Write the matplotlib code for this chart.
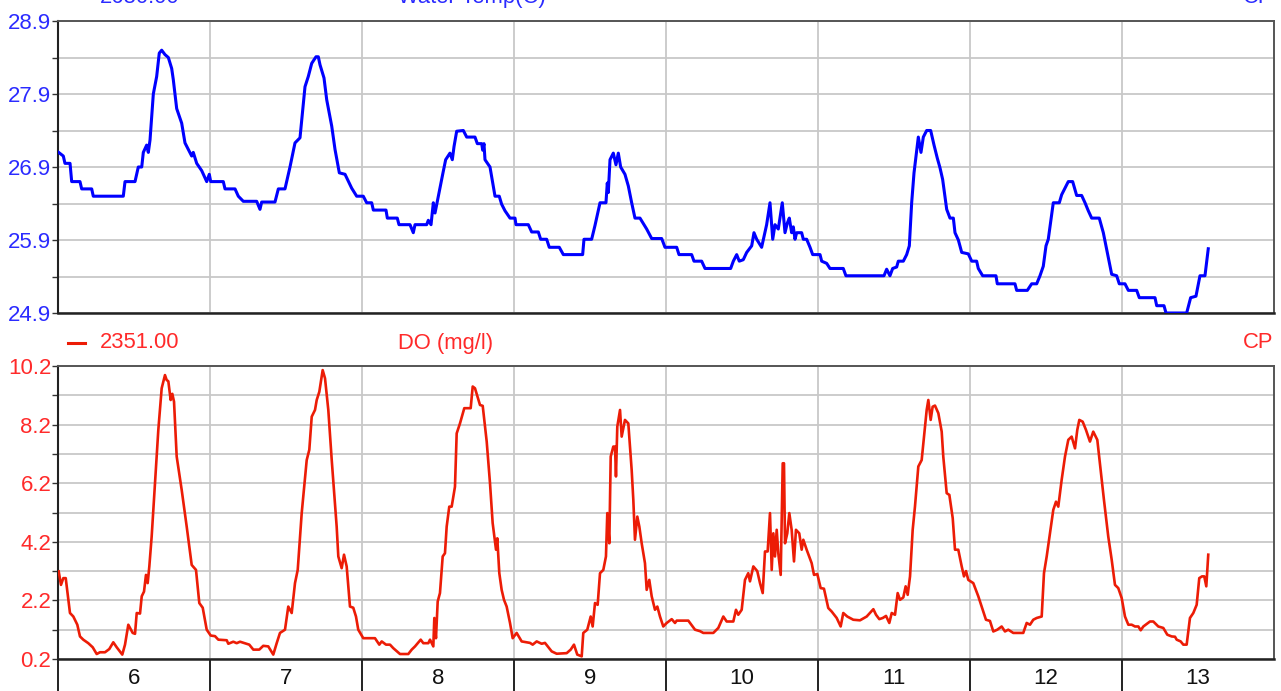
import matplotlib
matplotlib.use('Agg')
import matplotlib.pyplot as plt
from matplotlib.lines import Line2D

plt.rcParams['font.family'] = ['Liberation Sans', 'DejaVu Sans']

# ---------------- data ----------------
day_labels = ['6', '7', '8', '9', '10', '11', '12', '13']
day_starts = [0, 24, 48, 72, 96, 120, 144, 168]     # hours since start of day 6
day_centers = [12, 36, 60, 84, 108, 132, 156, 180]

temp_ticks = [24.9, 25.9, 26.9, 27.9, 28.9]
temp_minor = [25.4, 26.4, 27.4, 28.4]
do_ticks = [0.2, 2.2, 4.2, 6.2, 8.2, 10.2]
do_minor = [1.2, 3.2, 5.2, 7.2, 9.2]

temp_title = 'Water Temp(C)'
temp_last = '2680.00'
do_title = 'DO (mg/l)'
do_last = '2351.00'
site = 'CP'

temp_hours = [0.1, 0.84, 1.1, 1.9, 2.16, 3.47, 3.74, 5.32, 5.57, 10.31, 10.58, 12.16, 12.68, 13.22, 13.47,
              14.0, 14.26, 14.53, 15.05, 15.58, 15.99, 16.37, 16.89, 17.42, 17.95, 18.2, 18.74, 19.53, 20.05,
              21.11, 21.36, 21.9, 22.69, 23.48, 23.89, 24.11, 26.1, 26.37, 27.95, 28.47, 29.26, 31.37, 31.89,
              32.16, 34.26, 34.79, 35.84, 36.63, 37.42, 38.21, 39.0, 39.52, 40.06, 40.74, 41.1, 41.37, 42.0,
              42.43, 43.22, 43.74, 44.42, 45.32, 46.37, 47.16, 48.2, 48.74, 49.53, 49.79, 51.79, 52.0, 53.57,
              53.84, 55.58, 56.1, 56.37, 58.21, 58.47, 58.9, 59.26, 59.53, 60.05, 60.74, 61.21, 61.89, 62.26,
              62.53, 62.95, 64.0, 64.53, 65.84, 66.21, 66.9, 67.06, 67.26, 67.42, 68.21, 69.0, 69.67, 70.05,
              70.58, 71.37, 72.16, 72.31, 74.26, 74.79, 75.84, 76.21, 77.16, 77.57, 79.15, 79.79, 82.84, 83.05,
              84.26, 84.79, 85.58, 86.52, 86.73, 86.89, 87.16, 87.68, 88.1, 88.47, 88.84, 89.52, 90.05, 90.58,
              91.1, 91.89, 92.95, 93.74, 95.32, 95.84, 97.69, 98.05, 100.05, 100.42, 101.63, 102.16, 106.21,
              106.63, 107.16, 107.57, 108.2, 108.74, 109.53, 109.89, 110.32, 111.1, 111.89, 112.42, 112.85,
              113.21, 113.73, 114.36, 114.79, 115.15, 115.47, 115.84, 116.1, 116.37, 116.63, 117.42, 117.68,
              118.21, 118.74, 119.16, 120.32, 120.58, 121.37, 121.89, 123.99, 124.41, 130.42, 130.84, 131.36,
              131.79, 132.42, 132.68, 133.47, 134.0, 134.42, 134.79, 135.16, 135.84, 136.26, 136.63, 137.16,
              137.79, 138.32, 138.84, 139.26, 139.68, 140.32, 140.84, 141.37, 141.63, 142.16, 142.69, 143.73,
              144.27, 145.05, 145.31, 146.0, 148.1, 148.31, 151.1, 151.37, 153.05, 153.74, 154.53, 155.05,
              155.57, 156.0, 156.36, 157.15, 158.1, 158.47, 159.0, 159.52, 160.21, 160.84, 161.63, 162.16,
              162.68, 163.21, 164.41, 165.05, 165.68, 166.37, 167.16, 167.57, 168.47, 169.0, 170.32, 170.73,
              173.21, 173.48, 174.63, 174.95, 178.21, 178.84, 179.68, 180.31, 181.1, 181.62]
temp_values = [27.10, 27.05, 26.95, 26.95, 26.70, 26.70, 26.60, 26.60, 26.50, 26.50, 26.70, 26.70, 26.90, 26.90,
               27.10, 27.20, 27.10, 27.27, 27.90, 28.14, 28.46, 28.50, 28.44, 28.40, 28.25, 28.10, 27.70, 27.50,
               27.23, 27.05, 27.10, 26.95, 26.85, 26.70, 26.80, 26.70, 26.70, 26.60, 26.60, 26.50, 26.43, 26.43,
               26.32, 26.42, 26.42, 26.60, 26.60, 26.90, 27.23, 27.30, 28.00, 28.14, 28.32, 28.41, 28.41, 28.30,
               28.12, 27.82, 27.46, 27.14, 26.82, 26.80, 26.61, 26.50, 26.50, 26.41, 26.41, 26.31, 26.31, 26.20,
               26.20, 26.11, 26.11, 26.00, 26.11, 26.11, 26.17, 26.11, 26.41, 26.27, 26.50, 26.80, 27.00, 27.09,
               27.00, 27.18, 27.39, 27.40, 27.31, 27.31, 27.22, 27.22, 27.13, 27.22, 27.00, 26.90, 26.50, 26.50,
               26.39, 26.30, 26.20, 26.20, 26.11, 26.11, 26.01, 26.01, 25.91, 25.91, 25.80, 25.80, 25.70, 25.70,
               25.91, 25.91, 26.10, 26.41, 26.41, 26.68, 26.55, 27.00, 27.09, 26.93, 27.09, 26.90, 26.80, 26.64,
               26.41, 26.20, 26.20, 26.05, 25.92, 25.92, 25.80, 25.80, 25.70, 25.70, 25.61, 25.61, 25.51, 25.51,
               25.61, 25.70, 25.61, 25.63, 25.73, 25.82, 26.00, 25.91, 25.80, 26.11, 26.41, 25.91, 26.11, 26.05,
               26.41, 26.00, 26.13, 26.20, 26.00, 26.08, 25.91, 26.00, 26.00, 25.91, 25.91, 25.80, 25.70, 25.70,
               25.61, 25.58, 25.51, 25.51, 25.41, 25.41, 25.50, 25.41, 25.51, 25.53, 25.61, 25.61, 25.70, 25.82,
               26.41, 26.82, 27.31, 27.10, 27.31, 27.40, 27.40, 27.20, 27.02, 26.89, 26.73, 26.32, 26.20, 26.20,
               26.00, 25.90, 25.73, 25.71, 25.61, 25.61, 25.51, 25.41, 25.41, 25.30, 25.30, 25.21, 25.21, 25.30,
               25.30, 25.41, 25.54, 25.82, 25.91, 26.41, 26.41, 26.52, 26.61, 26.70, 26.70, 26.51, 26.51, 26.41,
               26.30, 26.20, 26.20, 26.00, 25.73, 25.43, 25.41, 25.30, 25.30, 25.21, 25.21, 25.11, 25.11, 25.00,
               25.00, 24.90, 24.90, 25.11, 25.13, 25.41, 25.41, 25.78]

do_hours = [0.11, 0.47, 0.84, 1.22, 1.89, 2.42, 3.05, 3.47, 3.99, 4.78, 5.48, 6.11, 6.63, 7.42, 8.1, 8.73, 9.27,
            10.15, 10.58, 11.1, 11.79, 12.16, 12.43, 12.95, 13.22, 13.58, 13.89, 14.16, 14.42, 14.79, 15.32,
            15.84, 16.37, 16.89, 17.16, 17.42, 17.79, 18.05, 18.32, 18.74, 19.53, 20.32, 21.11, 21.79, 22.31,
            22.85, 23.48, 24.11, 24.79, 25.31, 26.64, 26.89, 27.68, 28.21, 28.74, 30.2, 30.84, 31.78, 32.41,
            33.2, 33.99, 34.53, 35.05, 35.84, 36.36, 36.9, 37.42, 37.85, 38.48, 39.27, 39.68, 40.06, 40.58,
            40.85, 41.26, 41.79, 42.16, 42.68, 43.22, 44.0, 44.26, 44.79, 45.16, 45.58, 46.1, 46.62, 47.05,
            47.41, 48.2, 50.05, 50.73, 51.11, 51.79, 52.42, 52.94, 54.0, 55.31, 55.85, 56.37, 57.27, 57.68,
            58.47, 58.74, 59.26, 59.42, 59.68, 59.95, 60.31, 60.74, 61.1, 61.37, 61.78, 62.16, 62.68, 62.95,
            63.47, 64.15, 65.16, 65.48, 65.84, 66.63, 67.06, 67.69, 68.21, 68.63, 68.84, 69.16, 69.36, 69.68,
            70.05, 70.42, 70.84, 71.37, 71.79, 72.42, 73.21, 74.52, 74.95, 75.58, 76.37, 76.89, 77.95, 78.74,
            80.32, 80.95, 81.47, 81.99, 82.69, 82.94, 83.57, 84.11, 84.42, 84.79, 85.21, 85.58, 86.1, 86.52,
            86.73, 87.05, 87.27, 87.68, 87.95, 88.1, 88.31, 88.74, 89.0, 89.52, 90.05, 90.31, 90.58, 90.84,
            91.1, 91.47, 91.79, 92.16, 92.68, 92.95, 93.36, 93.74, 94.26, 94.63, 95.05, 95.57, 96.11, 96.9,
            97.42, 97.69, 99.52, 100.58, 101.37, 101.89, 103.47, 104.26, 105.05, 105.58, 106.63, 107.05,
            107.41, 107.95, 108.47, 108.99, 109.26, 109.79, 110.41, 110.84, 111.27, 111.63, 112.05, 112.42,
            112.69, 112.95, 113.21, 113.48, 113.73, 114.11, 114.43, 114.63, 114.79, 115.15, 115.47, 115.84,
            116.21, 116.52, 117.04, 117.42, 117.68, 118.21, 119.0, 119.37, 119.89, 120.42, 120.94, 121.62,
            122.16, 122.95, 123.58, 123.99, 124.62, 125.05, 125.57, 126.63, 127.69, 128.74, 129.16, 129.68,
            130.22, 130.74, 131.26, 131.64, 132.16, 132.58, 132.95, 133.47, 133.84, 134.16, 134.53, 134.95,
            135.31, 135.84, 136.37, 136.74, 137.16, 137.42, 137.79, 138.1, 138.47, 139.0, 139.53, 139.78,
            140.32, 140.74, 141.27, 141.63, 142.15, 142.69, 143.05, 143.37, 143.73, 144.52, 145.31, 146.1,
            146.52, 147.15, 147.68, 148.31, 149.0, 149.52, 150.04, 150.83, 152.41, 152.95, 153.47, 153.99,
            154.53, 155.32, 155.68, 156.11, 156.63, 157.15, 157.58, 157.94, 158.47, 159.0, 159.52, 160.05,
            160.58, 160.94, 161.26, 161.79, 162.31, 162.94, 163.46, 164.1, 164.63, 165.15, 165.83, 166.37,
            166.89, 167.41, 167.95, 168.47, 169.0, 169.53, 170.05, 170.58, 170.95, 171.37, 172.42, 172.94,
            173.73, 174.52, 175.15, 175.84, 176.37, 176.63, 177.26, 177.68, 178.21, 178.73, 179.26, 179.79,
            180.2, 180.63, 180.99, 181.31, 181.62]
do_values = [3.19, 2.73, 2.96, 2.96, 1.77, 1.65, 1.37, 0.97, 0.86, 0.74, 0.60, 0.37, 0.43, 0.43, 0.54, 0.77, 0.60,
             0.35, 0.69, 1.37, 1.09, 1.06, 1.77, 1.75, 2.34, 2.50, 3.07, 2.79, 3.36, 4.38, 6.20,
             8.02, 9.44, 9.89, 9.72, 9.68, 9.04, 9.25, 8.98, 7.11, 5.97, 4.72, 3.41, 3.24, 2.11,
             1.95, 1.20, 1.00, 0.98, 0.86, 0.84, 0.72, 0.79, 0.74, 0.79, 0.69, 0.52, 0.52, 0.65,
             0.63, 0.35, 0.74, 1.09, 1.20, 1.99, 1.77, 2.79, 3.24, 5.18, 6.99, 7.34, 8.47, 8.70,
             9.04, 9.32, 10.06, 9.78, 8.70, 6.99, 4.72, 3.70, 3.30, 3.76, 3.36, 1.99, 1.95, 1.65,
             1.20, 0.91, 0.91, 0.69, 0.80, 0.69, 0.69, 0.57, 0.37, 0.37, 0.52, 0.63, 0.86, 0.74,
             0.74, 0.86, 0.63, 1.60, 0.91, 2.16, 2.45, 3.70, 3.81, 4.72, 5.40, 5.40, 6.08, 7.90,
             8.24, 8.76, 8.76, 9.50, 9.44, 8.87, 8.84, 7.62, 6.20, 4.84, 4.49, 3.93, 4.32, 3.13,
             2.56, 2.22, 1.99, 1.43, 0.91, 1.09, 0.80, 0.75, 0.69, 0.80, 0.72, 0.75, 0.46, 0.38,
             0.40, 0.52, 0.69, 0.35, 0.29, 1.09, 1.20, 1.65, 1.31, 2.11, 2.05, 3.13, 3.24, 3.70,
             5.18, 4.15, 7.11, 7.45, 7.45, 6.43, 8.13, 8.70, 7.79, 8.36, 8.24, 7.45, 6.65, 5.63,
             4.27, 5.06, 4.72, 4.15, 3.47, 2.56, 2.90, 2.34, 1.88, 1.99, 1.65, 1.31, 1.43, 1.56,
             1.43, 1.51, 1.51, 1.20, 1.15, 1.09, 1.09, 1.26, 1.65, 1.48, 1.48, 1.88,
             1.71, 1.88, 2.90, 3.13, 2.85, 3.36, 3.20, 2.79, 2.45, 3.87, 3.87, 5.18,
             3.24, 4.49, 3.70, 4.61, 3.81, 3.07, 6.88, 6.88, 4.15, 4.49, 5.18, 4.61,
             3.53, 4.61, 4.49, 3.93, 4.27, 3.93, 3.47, 3.07, 3.10, 2.62, 2.60, 1.94,
             1.82, 1.60, 1.31, 1.77, 1.65, 1.60, 1.54, 1.52, 1.65, 1.90, 1.71, 1.56,
             1.60, 1.67, 1.43, 1.77, 1.71, 2.45, 2.22, 2.30, 2.68, 2.39, 3.02, 4.61,
             5.40, 6.77, 6.99, 7.79, 8.70, 9.04, 8.36, 8.81, 8.85, 8.59, 7.96, 7.11,
             5.86, 5.80, 5.01, 3.93, 3.93, 3.36, 3.02, 3.20, 2.90, 2.79, 2.34, 1.82,
             1.54, 1.50, 1.14, 1.20, 1.31, 1.14, 1.20, 1.09, 1.09, 1.43, 1.37, 1.54,
             1.60, 1.65, 3.13, 3.70, 4.49, 5.29, 5.57, 5.40, 6.31, 7.11, 7.68, 7.79,
             7.39, 8.02, 8.36, 8.30, 8.02, 7.62, 7.96, 7.68, 6.65, 5.63, 4.38, 3.59,
             2.73, 2.62, 2.28, 1.65, 1.37, 1.37, 1.31, 1.31, 1.18, 1.31, 1.48, 1.48,
             1.31, 1.26, 1.03, 0.97, 0.96, 0.86, 0.80, 0.69, 0.69, 1.60, 1.77, 2.05,
             2.96, 3.02, 3.02, 2.68, 3.76]

# ---------------- style ----------------
W, H = 1281, 691
BLUE_LINE = '#0000ff'
BLUE_TXT = '#2b2bff'
RED_LINE = '#ec1c06'
RED_TXT = '#ff2a2a'
GRID = '#c8c8c8'
FS_TICK = 16
FS_HEAD = 15.8

fig = plt.figure(figsize=(W / 100, H / 100), dpi=100)
fig.patch.set_facecolor('white')
ax1 = fig.add_axes([58 / W, 1 - 313 / H, 1216 / W, 292 / H])
ax2 = fig.add_axes([58 / W, 1 - 659 / H, 1216 / W, 293 / H])


def style_axes(ax, ticks, minor, txtcolor, show_x):
    ax.set_xlim(0, 192)
    ax.set_ylim(ticks[0], ticks[-1])
    ax.set_yticks(ticks)
    ax.set_yticklabels([f'{t:.1f}' for t in ticks])
    ax.set_yticks(minor, minor=True)
    ax.tick_params(axis='y', which='both', direction='out', length=4.3, width=1.0,
                   color='#333333', pad=0.5, labelsize=FS_TICK, labelcolor=txtcolor)
    ax.set_xticks(day_starts)
    ax.yaxis.grid(True, which='both', color=GRID, lw=1.3)
    ax.xaxis.grid(True, which='major', color=GRID, lw=1.3)
    ax.set_axisbelow(True)
    for side in ['top', 'right']:
        ax.spines[side].set_color('#555555')
        ax.spines[side].set_linewidth(1.4)
    ax.spines['left'].set_color('#222222')
    ax.spines['left'].set_linewidth(1.5)
    ax.spines['bottom'].set_color('#222222')
    ax.spines['bottom'].set_linewidth(1.8)
    if show_x:
        ax.set_xticklabels([''] * len(day_starts))
        ax.tick_params(axis='x', which='major', direction='out', length=23.5, width=1.3,
                       color='#111111')
        ax.set_xticks(day_centers, minor=True)
        ax.set_xticklabels(day_labels, minor=True)
        ax.tick_params(axis='x', which='minor', length=0, pad=6.5, labelsize=FS_TICK,
                       labelcolor='#111111')
    else:
        ax.tick_params(axis='x', which='both', length=0, labelbottom=False)


style_axes(ax1, temp_ticks, temp_minor, BLUE_TXT, False)
style_axes(ax2, do_ticks, do_minor, RED_TXT, True)

ax1.plot(temp_hours, temp_values, color=BLUE_LINE, lw=2.2, solid_joinstyle='round', zorder=3)
ax2.plot(do_hours, do_values, color=RED_LINE, lw=1.9, solid_joinstyle='round', zorder=3)


def header(ycenter, last, title, color, linecolor):
    yf = 1 - ycenter / H
    fig.add_artist(Line2D([68 / W, 85 / W], [yf, yf], color=linecolor, lw=2.2))
    fig.text(100 / W, yf, last, color=color, fontsize=FS_HEAD, ha='left', va='center')
    fig.text(398 / W, yf, title, color=color, fontsize=FS_HEAD, ha='left', va='center')
    fig.text(1273 / W, yf, site, color=color, fontsize=FS_HEAD, ha='right', va='center')


# top header sits above the figure edge, cut off as in the original screenshot
header(-2, temp_last, temp_title, BLUE_TXT, BLUE_LINE)
header(343, do_last, do_title, RED_TXT, RED_LINE)

fig.savefig('out.png', dpi=100, facecolor='white')
